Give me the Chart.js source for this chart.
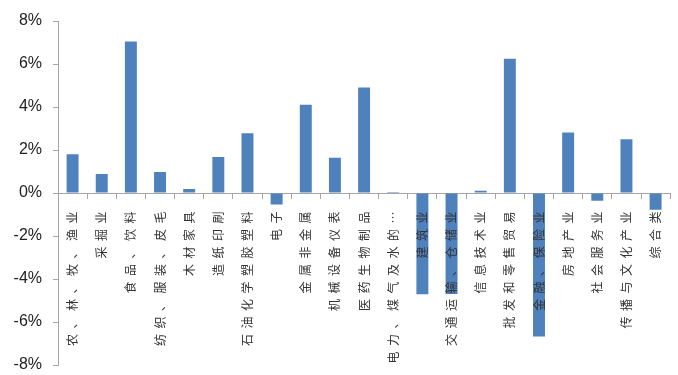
<!DOCTYPE html>
<html>
<head>
<meta charset="utf-8">
<script src="https://cdn.jsdelivr.net/npm/chart.js@4"></script>
<style>
  html, body { margin: 0; padding: 0; background: #fff; }
  .wrap { width: 678px; height: 375px; }
</style>
</head>
<body>
<div class="wrap"><canvas id="myChart1"></canvas></div>
<script>
// industries
const categories = ["农、林、牧、渔业", "采掘业", "食品、饮料", "纺织、服装、皮毛", "木材家具", "造纸印刷",
  "石油化学塑胶塑料", "电子", "金属非金属", "机械设备仪表", "医药生物制品", "电力、煤气及水的…",
  "建筑业", "交通运输、仓储业", "信息技术业", "批发和零售贸易", "金融、保险业", "房地产业",
  "社会服务业", "传播与文化产业", "综合类"];
// change, %
const values = [1.8, 0.88, 7.05, 0.98, 0.19, 1.68, 2.78, -0.54, 4.1, 1.64, 4.91, 0.05,
  -4.71, -4.7, 0.11, 6.25, -6.67, 2.81, -0.36, 2.5, -0.78];
const yTicks = [-8, -6, -4, -2, 0, 2, 4, 6, 8];

// wider letter spacing for the vertical category labels
const spacedLabels = {
  id: 'spacedLabels',
  beforeDraw(chart) {
    const s = chart.scales.x;
    if (s._spaced) return;
    const orig = s.drawLabels;
    s.drawLabels = function (area) {
      const c = this.ctx;
      c.save();
      c.letterSpacing = '5.5px';
      orig.call(this, area);
      c.restore();
    };
    s._spaced = true;
  }
};

let ctx = document.getElementById('myChart1').getContext('2d');
let myChart1 = new Chart(ctx, {
  type: 'bar',
  data: {
    labels: categories,
    datasets: [{
      data: values,
      backgroundColor: '#4f81bd',
      barPercentage: 0.41,
      categoryPercentage: 1
    }]
  },
  options: {
    responsive: true,
    maintainAspectRatio: false,
    animation: false,
    layout: { padding: { top: 21, bottom: 10, left: 0, right: 0 } },
    plugins: { legend: { display: false }, tooltip: { enabled: false } },
    scales: {
      x: {
        position: { y: 0 },
        grid: { drawOnChartArea: false, drawTicks: true, tickLength: 5, color: '#a6a6a6', offset: true },
        border: { color: '#a6a6a6' },
        ticks: {
          z: 1,
          autoSkip: false, minRotation: 90, maxRotation: 90, padding: 8,
          color: '#333',
          font: { family: '"Noto Sans CJK SC", sans-serif', size: 12 }
        }
      },
      y: {
        min: -8, max: 8,
        afterBuildTicks(scale) { scale.ticks = yTicks.map(v => ({ value: v })); },
        afterFit(scale) {
          scale.width = 58;
          scale.paddingTop = 0;
          scale.paddingBottom = 0;
        },
        grid: { drawOnChartArea: false, drawTicks: true, tickLength: 5, color: '#a6a6a6' },
        border: { color: '#a6a6a6' },
        ticks: {
          padding: 11,
          color: '#222',
          font: { family: '"Liberation Sans", Arial, sans-serif', size: 16 },
          callback: v => v + '%'
        }
      }
    }
  },
  plugins: [spacedLabels]
});
</script>
</body>
</html>
